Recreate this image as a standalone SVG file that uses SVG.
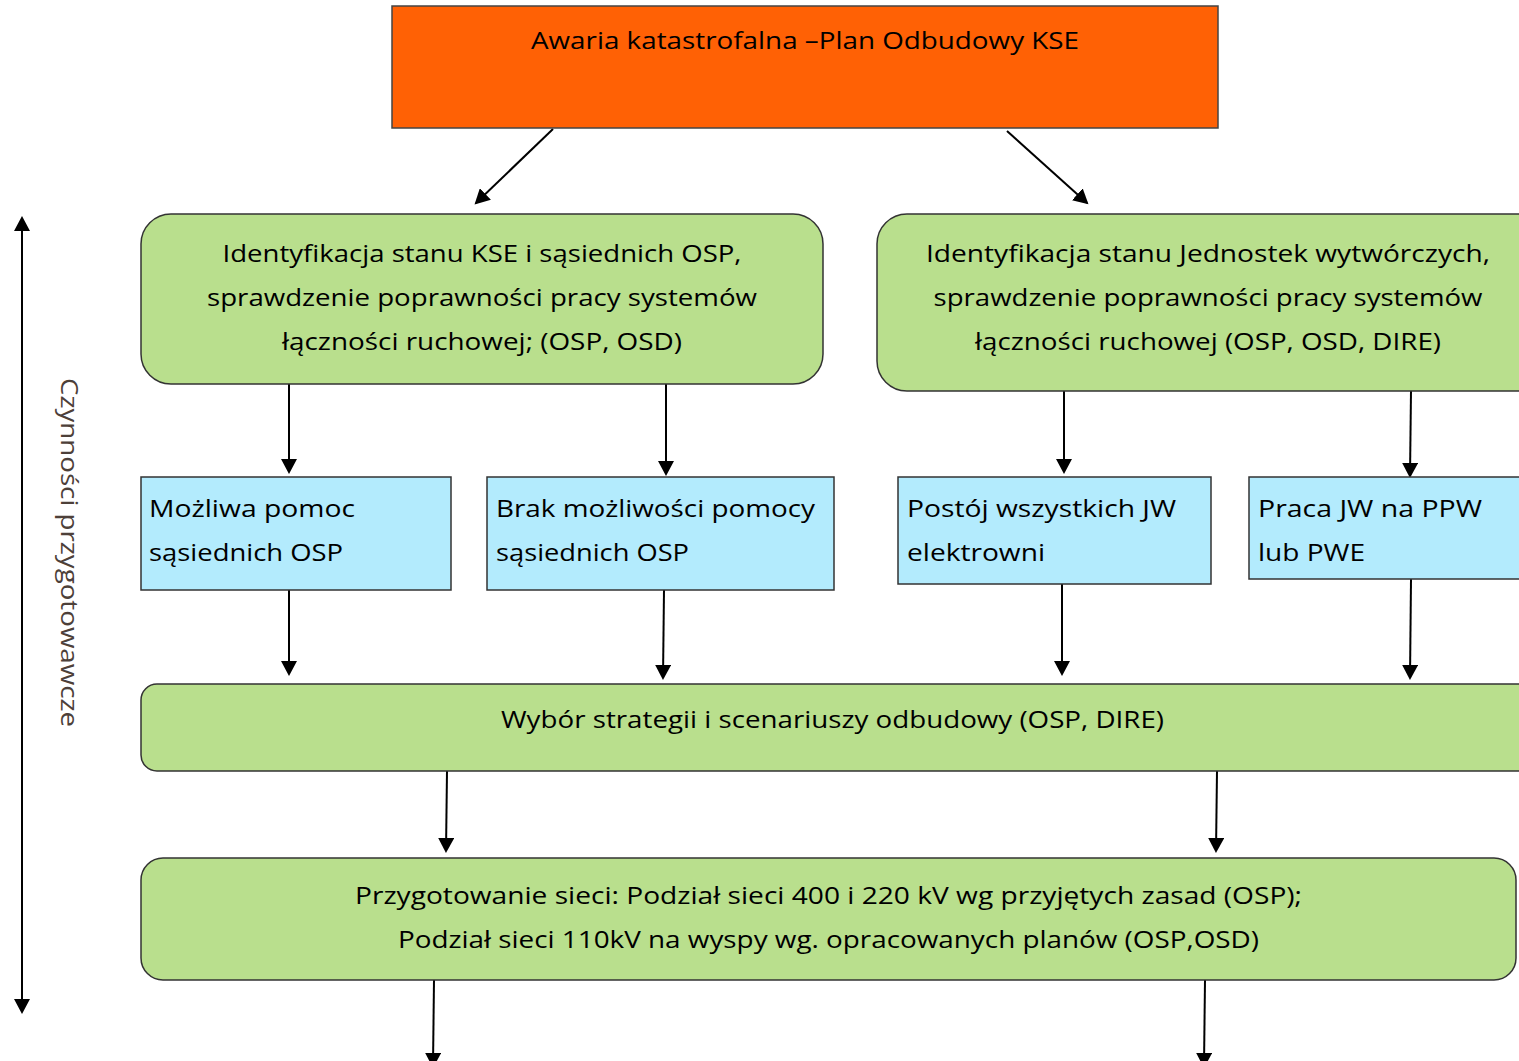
<svg xmlns="http://www.w3.org/2000/svg" width="1519" height="1061" viewBox="0 0 1519 1061">
<defs>
<marker id="ah" markerUnits="userSpaceOnUse" markerWidth="16" markerHeight="16" refX="13" refY="8" orient="auto-start-reverse" viewBox="0 0 16 16">
<path d="M0,0 L15,8 L0,16 z" fill="#000"/>
</marker>
<style>
.t{font-family:"Open Sans","Noto Sans","DejaVu Sans",sans-serif;font-size:24px;fill:#000}
.c{text-anchor:middle}
.g{fill:#b9df8d;stroke:#333;stroke-width:1.5}
.b{fill:#b3ebfd;stroke:#333;stroke-width:1.5}
.o{fill:#ff6105;stroke:#444;stroke-width:1.5}
.ln{stroke:#000;stroke-width:2;fill:none;marker-end:url(#ah)}
.v{font-family:"Open Sans","Noto Sans",sans-serif;font-size:23px;fill:#4d4039;text-anchor:middle}
</style>
</defs>
<rect width="1519" height="1061" fill="#fff"/>

<g id="connectors">
<line class="ln" x1="553" y1="129" x2="476" y2="203"/>
<line class="ln" x1="1007" y1="131" x2="1087" y2="203"/>
<line class="ln" x1="289" y1="384" x2="289" y2="472"/>
<line class="ln" x1="666" y1="384" x2="666" y2="474"/>
<line class="ln" x1="1064" y1="391" x2="1064" y2="472"/>
<line class="ln" x1="1411" y1="391" x2="1410" y2="476"/>
<line class="ln" x1="289" y1="590" x2="289" y2="674"/>
<line class="ln" x1="664" y1="590" x2="663" y2="678"/>
<line class="ln" x1="1062" y1="584" x2="1062" y2="674"/>
<line class="ln" x1="1411" y1="579" x2="1410" y2="678"/>
<line class="ln" x1="447" y1="771" x2="446" y2="851"/>
<line class="ln" x1="1217" y1="771" x2="1216" y2="851"/>
<line class="ln" x1="434" y1="980" x2="433" y2="1066"/>
<line class="ln" x1="1205" y1="980" x2="1204" y2="1066"/>
<line class="ln" x1="22" y1="218" x2="22" y2="1012" style="marker-start:url(#ah)"/>
</g>

<g id="top">
<rect class="o" x="392" y="6" width="826" height="122"/>
<text class="t c" x="805" y="49" textLength="548" lengthAdjust="spacingAndGlyphs">Awaria katastrofalna –Plan Odbudowy KSE</text>
</g>

<g id="ident-kse">
<rect class="g" x="141" y="214" width="682" height="170" rx="30"/>
<text class="t c" x="482" y="262" textLength="519" lengthAdjust="spacingAndGlyphs">Identyfikacja stanu KSE i sąsiednich OSP,</text>
<text class="t c" x="482" y="306" textLength="550" lengthAdjust="spacingAndGlyphs">sprawdzenie poprawności pracy systemów</text>
<text class="t c" x="482" y="350" textLength="400" lengthAdjust="spacingAndGlyphs">łączności ruchowej; (OSP, OSD)</text>
</g>

<g id="ident-jw">
<rect class="g" x="877" y="214" width="672" height="177" rx="30"/>
<text class="t c" x="1208" y="262" textLength="564" lengthAdjust="spacingAndGlyphs">Identyfikacja stanu Jednostek wytwórczych,</text>
<text class="t c" x="1208" y="306" textLength="549" lengthAdjust="spacingAndGlyphs">sprawdzenie poprawności pracy systemów</text>
<text class="t c" x="1208" y="350" textLength="466" lengthAdjust="spacingAndGlyphs">łączności ruchowej (OSP, OSD, DIRE)</text>
</g>

<g id="pomoc">
<rect class="b" x="141" y="477" width="310" height="113"/>
<text class="t" x="149" y="517" textLength="206" lengthAdjust="spacingAndGlyphs">Możliwa pomoc</text>
<text class="t" x="149" y="561" textLength="194" lengthAdjust="spacingAndGlyphs">sąsiednich OSP</text>
</g>

<g id="brak-pomocy">
<rect class="b" x="487" y="477" width="347" height="113"/>
<text class="t" x="496" y="517" textLength="319" lengthAdjust="spacingAndGlyphs">Brak możliwości pomocy</text>
<text class="t" x="496" y="561" textLength="193" lengthAdjust="spacingAndGlyphs">sąsiednich OSP</text>
</g>

<g id="postoj">
<rect class="b" x="898" y="477" width="313" height="107"/>
<text class="t" x="907" y="517" textLength="269" lengthAdjust="spacingAndGlyphs">Postój wszystkich JW</text>
<text class="t" x="907" y="561" textLength="138" lengthAdjust="spacingAndGlyphs">elektrowni</text>
</g>

<g id="praca">
<rect class="b" x="1249" y="477" width="290" height="102"/>
<text class="t" x="1258" y="517" textLength="224" lengthAdjust="spacingAndGlyphs">Praca JW na PPW</text>
<text class="t" x="1258" y="561" textLength="107" lengthAdjust="spacingAndGlyphs">lub PWE</text>
</g>

<g id="wybor">
<rect class="g" x="141" y="684" width="1408" height="87" rx="16"/>
<text class="t c" x="832.5" y="728" textLength="663" lengthAdjust="spacingAndGlyphs">Wybór strategii i scenariuszy odbudowy (OSP, DIRE)</text>
</g>

<g id="przygotowanie">
<rect class="g" x="141" y="858" width="1375" height="122" rx="22"/>
<text class="t c" x="828.5" y="904" textLength="947" lengthAdjust="spacingAndGlyphs">Przygotowanie sieci: Podział sieci 400 i 220 kV wg przyjętych zasad (OSP);</text>
<text class="t c" x="828.5" y="948" textLength="861" lengthAdjust="spacingAndGlyphs">Podział sieci 110kV na wyspy wg. opracowanych planów (OSP,OSD)</text>
</g>

<g id="label">
<text class="v" transform="translate(61,552.5) rotate(90)" textLength="349" lengthAdjust="spacingAndGlyphs">Czynności przygotowawcze</text>
</g>
</svg>
